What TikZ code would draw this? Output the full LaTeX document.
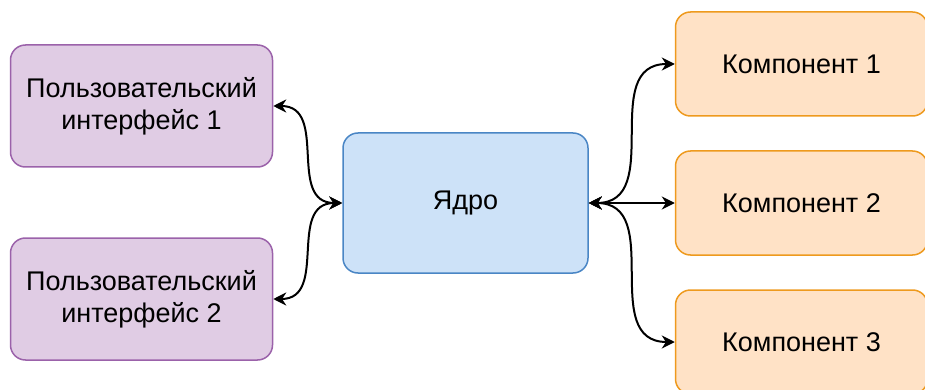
\documentclass[tikz,border=0pt]{standalone}
\usepackage{fontspec}
\setmainfont{Liberation Sans}
\usetikzlibrary{positioning,arrows.meta}

\definecolor{uifill}{HTML}{E0CCE4}
\definecolor{uidraw}{HTML}{9B62AA}
\definecolor{corefill}{HTML}{CDE2F8}
\definecolor{coredraw}{HTML}{4A86C5}
\definecolor{compfill}{HTML}{FFE2C6}
\definecolor{compdraw}{HTML}{EE9A1E}

\begin{document}
\begin{tikzpicture}[x=1pt, y=1pt,
        font=\fontsize{27}{32}\selectfont,
        box/.style = {draw, line width=1.5pt, rounded corners=15pt, align=center, inner sep=0pt},
        ui/.style = {box, fill=uifill, draw=uidraw, minimum width=262pt, minimum height=122pt},
        core/.style = {box, fill=corefill, draw=coredraw, minimum width=245pt, minimum height=140pt},
        comp/.style = {box, fill=compfill, draw=compdraw, minimum width=252pt, minimum height=104pt},
        link/.style = {line width=2pt, {Stealth[length=13pt,width=13pt]}-{Stealth[length=13pt,width=13pt]}}]
        \useasboundingbox (0,0) rectangle (925,-390);
        \node[core] (3) at (465.5,-203) {Ядро};
        \node[ui] (1) [left=69pt of 3, yshift=97pt] {Пользовательский\\интерфейс 1};
        \node[ui] (2) [left=69pt of 3, yshift=-96pt] {Пользовательский\\интерфейс 2};
        \node[comp] (4) [right=86pt of 3, yshift=139pt] {Компонент 1};
        \node[comp] (5) [right=86pt of 3] {Компонент 2};
        \node[comp] (6) [right=86pt of 3, yshift=-139pt] {Компонент 3};
        \draw[link] (3.west) to[out=180, in=0, looseness=1.2] (1.east);
        \draw[link] (3.west) to[out=180, in=0, looseness=1.2] (2.east);
        \draw[link] (3.east) to[out=0, in=180, looseness=1.2] (4.west);
        \draw[link] (3.east) -- (5.west);
        \draw[link] (3.east) to[out=0, in=180, looseness=1.2] (6.west);
    \end{tikzpicture}
\end{document}
